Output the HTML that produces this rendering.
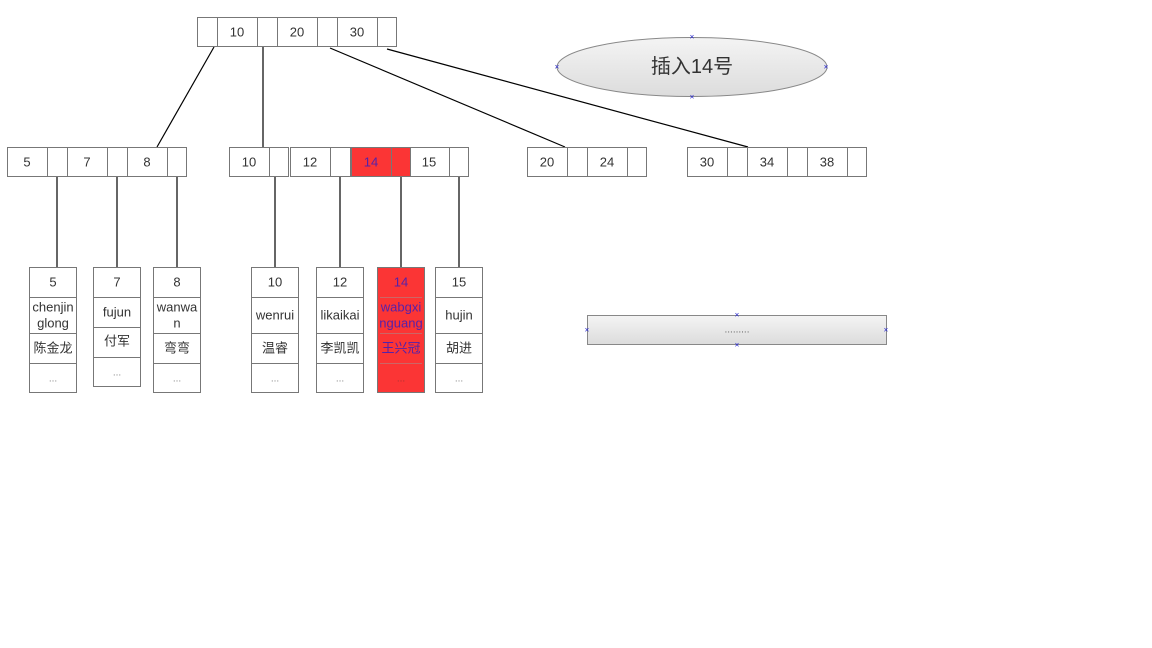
<!DOCTYPE html>
<html><head><meta charset="utf-8"><style>
html,body{margin:0;padding:0;background:#fff;width:1152px;height:648px;overflow:hidden}
svg text{font-family:"Liberation Sans","Noto Sans CJK SC",sans-serif;font-size:13px;fill:#333;text-anchor:middle;dominant-baseline:central}
</style></head><body>
<svg width="1152" height="648" viewBox="0 0 1152 648" xmlns="http://www.w3.org/2000/svg">
<defs>
<linearGradient id="g1" x1="0" y1="0" x2="0" y2="1"><stop offset="0" stop-color="#f4f4f4"/><stop offset="1" stop-color="#dcdcdc"/></linearGradient>
</defs>
<g stroke="#000" stroke-width="1.2" fill="none">
<line x1="214" y1="47" x2="157" y2="147"/>
<line x1="263" y1="47" x2="263" y2="147"/>
<line x1="330" y1="48" x2="565" y2="147"/>
<line x1="387" y1="49" x2="748" y2="147"/>
<line x1="57" y1="176" x2="57" y2="267"/>
<line x1="117" y1="176" x2="117" y2="267"/>
<line x1="177" y1="176" x2="177" y2="267"/>
<line x1="275" y1="176" x2="275" y2="267"/>
<line x1="340" y1="176" x2="340" y2="267"/>
<line x1="401" y1="176" x2="401" y2="267"/>
<line x1="459" y1="176" x2="459" y2="267"/>
</g>
<g stroke="#777" stroke-width="1" fill="#fff">
<!-- root -->
<rect x="197.5" y="17.5" width="20" height="29"/><rect x="217.5" y="17.5" width="40" height="29"/><rect x="257.5" y="17.5" width="20" height="29"/><rect x="277.5" y="17.5" width="40" height="29"/><rect x="317.5" y="17.5" width="20" height="29"/><rect x="337.5" y="17.5" width="40" height="29"/><rect x="377.5" y="17.5" width="19" height="29"/>
<!-- node1 -->
<rect x="7.5" y="147.5" width="40" height="29"/><rect x="47.5" y="147.5" width="20" height="29"/><rect x="67.5" y="147.5" width="40" height="29"/><rect x="107.5" y="147.5" width="20" height="29"/><rect x="127.5" y="147.5" width="40" height="29"/><rect x="167.5" y="147.5" width="19" height="29"/>
<!-- node2 -->
<rect x="229.5" y="147.5" width="40" height="29"/><rect x="269.5" y="147.5" width="19" height="29"/><rect x="290.5" y="147.5" width="40" height="29"/><rect x="330.5" y="147.5" width="20" height="29"/>
<rect x="351.5" y="147.5" width="40" height="29" fill="#fb3535"/><rect x="391.5" y="147.5" width="19" height="29" fill="#fb3535"/>
<rect x="410.5" y="147.5" width="39" height="29"/><rect x="449.5" y="147.5" width="19" height="29"/>
<!-- node3 -->
<rect x="527.5" y="147.5" width="40" height="29"/><rect x="567.5" y="147.5" width="20" height="29"/><rect x="587.5" y="147.5" width="40" height="29"/><rect x="627.5" y="147.5" width="19" height="29"/>
<!-- node4 -->
<rect x="687.5" y="147.5" width="40" height="29"/><rect x="727.5" y="147.5" width="20" height="29"/><rect x="747.5" y="147.5" width="40" height="29"/><rect x="787.5" y="147.5" width="20" height="29"/><rect x="807.5" y="147.5" width="40" height="29"/><rect x="847.5" y="147.5" width="19" height="29"/>
<!-- leaves -->
<rect x="29.5" y="267.5" width="47" height="125"/><line x1="29.5" y1="297.5" x2="76.5" y2="297.5"/><line x1="29.5" y1="333.5" x2="76.5" y2="333.5"/><line x1="29.5" y1="363.5" x2="76.5" y2="363.5"/>
<rect x="93.5" y="267.5" width="47" height="119"/><line x1="93.5" y1="297.5" x2="140.5" y2="297.5"/><line x1="93.5" y1="327.5" x2="140.5" y2="327.5"/><line x1="93.5" y1="357.5" x2="140.5" y2="357.5"/>
<rect x="153.5" y="267.5" width="47" height="125"/><line x1="153.5" y1="297.5" x2="200.5" y2="297.5"/><line x1="153.5" y1="333.5" x2="200.5" y2="333.5"/><line x1="153.5" y1="363.5" x2="200.5" y2="363.5"/>
<rect x="251.5" y="267.5" width="47" height="125"/><line x1="251.5" y1="297.5" x2="298.5" y2="297.5"/><line x1="251.5" y1="333.5" x2="298.5" y2="333.5"/><line x1="251.5" y1="363.5" x2="298.5" y2="363.5"/>
<rect x="316.5" y="267.5" width="47" height="125"/><line x1="316.5" y1="297.5" x2="363.5" y2="297.5"/><line x1="316.5" y1="333.5" x2="363.5" y2="333.5"/><line x1="316.5" y1="363.5" x2="363.5" y2="363.5"/>
<rect x="377.5" y="267.5" width="47" height="125" fill="#fb3535"/><line x1="380" y1="297.5" x2="422" y2="297.5" stroke="#c66"/><line x1="380" y1="333.5" x2="422" y2="333.5" stroke="#c66"/><line x1="380" y1="363.5" x2="422" y2="363.5" stroke="#c66"/>
<rect x="435.5" y="267.5" width="47" height="125"/><line x1="435.5" y1="297.5" x2="482.5" y2="297.5"/><line x1="435.5" y1="333.5" x2="482.5" y2="333.5"/><line x1="435.5" y1="363.5" x2="482.5" y2="363.5"/>
<!-- ellipse & bar -->
<ellipse cx="692" cy="67" rx="135" ry="29.5" fill="url(#g1)" stroke="#888"/>
<rect x="587.5" y="315.5" width="299" height="29" fill="url(#g1)" stroke="#888"/>
</g>
<g fill="#22c" font-size="8">
<text x="692" y="37" style="fill:#22c;font-size:8px">×</text><text x="692" y="97" style="fill:#22c;font-size:8px">×</text>
<text x="557" y="67" style="fill:#22c;font-size:8px">×</text><text x="826" y="67" style="fill:#22c;font-size:8px">×</text>
<text x="737" y="315" style="fill:#22c;font-size:8px">×</text><text x="737" y="345" style="fill:#22c;font-size:8px">×</text>
<text x="587" y="330" style="fill:#22c;font-size:8px">×</text><text x="886" y="330" style="fill:#22c;font-size:8px">×</text>
</g>
<text x="237" y="32">10</text><text x="297" y="32">20</text><text x="357" y="32">30</text>
<text x="27" y="162">5</text><text x="87" y="162">7</text><text x="147" y="162">8</text>
<text x="249" y="162">10</text><text x="310" y="162">12</text><text x="371" y="162" style="fill:#5522aa">14</text><text x="429" y="162">15</text>
<text x="547" y="162">20</text><text x="607" y="162">24</text>
<text x="707" y="162">30</text><text x="767" y="162">34</text><text x="827" y="162">38</text>
<text x="692" y="67" style="font-size:20px;fill:#333">插入14号</text>
<text x="737" y="330" style="font-size:10px;fill:#666">.........</text>
<!-- leaf texts -->
<text x="53" y="282">5</text><text x="53" y="307">chenjin</text><text x="53" y="323">glong</text><text x="53" y="348">陈金龙</text><text x="53" y="379" style="font-size:10px;fill:#888">...</text>
<text x="117" y="282">7</text><text x="117" y="312">fujun</text><text x="117" y="341">付军</text><text x="117" y="373" style="font-size:10px;fill:#888">...</text>
<text x="177" y="282">8</text><text x="177" y="307">wanwa</text><text x="177" y="323">n</text><text x="177" y="348">弯弯</text><text x="177" y="379" style="font-size:10px;fill:#888">...</text>
<text x="275" y="282">10</text><text x="275" y="315">wenrui</text><text x="275" y="348">温睿</text><text x="275" y="379" style="font-size:10px;fill:#888">...</text>
<text x="340" y="282">12</text><text x="340" y="315">likaikai</text><text x="340" y="348">李凯凯</text><text x="340" y="379" style="font-size:10px;fill:#888">...</text>
<text x="401" y="282" style="fill:#5522aa">14</text><text x="401" y="307" style="fill:#5522aa">wabgxi</text><text x="401" y="323" style="fill:#5522aa">nguang</text><text x="401" y="348" style="fill:#5522aa">王兴冠</text><text x="401" y="379" style="font-size:10px;fill:#a33">...</text>
<text x="459" y="282">15</text><text x="459" y="315">hujin</text><text x="459" y="348">胡进</text><text x="459" y="379" style="font-size:10px;fill:#888">...</text>
</svg>
</body></html>
